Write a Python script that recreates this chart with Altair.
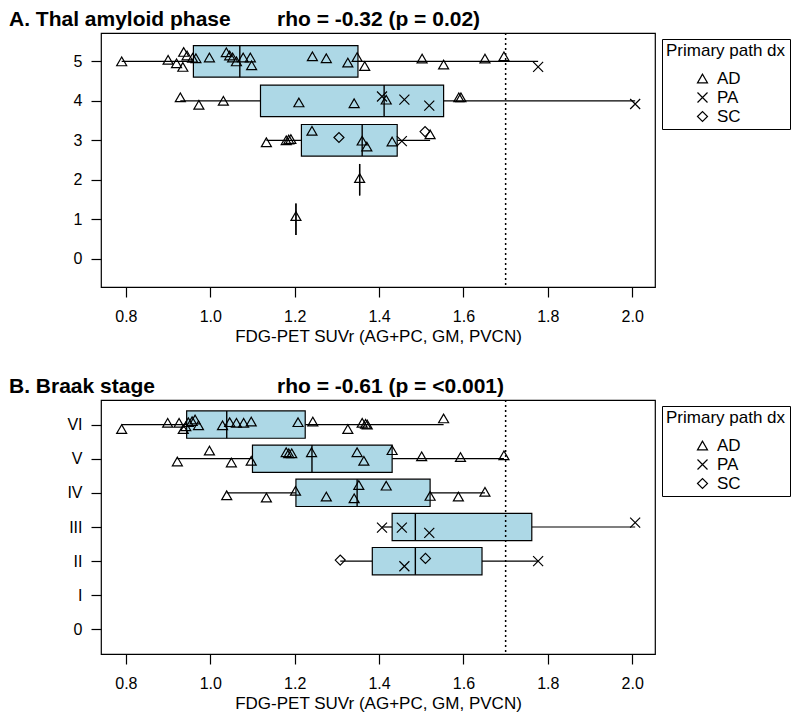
import altair as alt
import pandas as pd

FONT = "Liberation Sans, Arial, Helvetica, sans-serif"
X_DOMAIN = [0.741, 2.054]
X_TICKS = [0.8, 1.0, 1.2, 1.4, 1.6, 1.8, 2.0]
CUTOFF = 1.7
X_TITLE = "FDG-PET SUVr (AG+PC, GM, PVCN)"
LEGEND_TITLE = "Primary path dx"
DX_LEVELS = ["AD", "PA", "SC"]
DX_SHAPES = ["triangle-up", "M-1,-1L1,1M-1,1L1,-1", "diamond"]

panel_titles = ["A. Thal amyloid phase", "B. Braak stage"]
rho_texts = ["rho = -0.32 (p = 0.02)", "rho = -0.61 (p = <0.001)"]

# ---------------- Panel A: Thal amyloid phase (points) ----------------
thal5_values = [0.790, 0.900, 0.920, 0.935, 0.937, 0.945, 0.958, 0.966, 0.998, 1.038, 1.046, 1.053, 1.062,
                1.078, 1.095, 1.098, 1.242, 1.275, 1.326, 1.348, 1.366, 1.502, 1.553, 1.651, 1.696, 1.777]
thal5_dx = ["AD"] * 25 + ["PA"]
thal5_jitter = [0.00, 0.04, -0.05, -0.14, 0.24, 0.15, 0.09, 0.08, 0.10, 0.23, 0.15, 0.10, 0.00,
                0.10, 0.10, -0.10, 0.13, 0.08, -0.03, 0.11, -0.12, 0.07, -0.08, 0.07, 0.13, -0.14]

thal4_values = [0.929, 0.973, 1.031, 1.210, 1.341, 1.407, 1.417, 1.460, 1.519, 1.589, 1.594, 2.007]
thal4_dx = ["AD", "AD", "AD", "AD", "AD", "PA", "AD", "PA", "PA", "AD", "AD", "PA"]
thal4_jitter = [0.09, -0.10, 0.00, -0.04, -0.06, 0.11, 0.03, 0.03, -0.12, 0.09, 0.09, -0.08]

thal3_values = [1.133, 1.180, 1.186, 1.191, 1.241, 1.305, 1.360, 1.371, 1.431, 1.454, 1.509, 1.521]
thal3_dx = ["AD", "AD", "AD", "AD", "AD", "SC", "AD", "AD", "AD", "PA", "SC", "AD"]
thal3_jitter = [-0.05, 0.00, 0.02, 0.03, 0.24, 0.07, -0.01, -0.16, -0.03, -0.02, 0.22, 0.15]

thal2_values = [1.354]
thal2_dx = ["AD"]
thal2_jitter = [0.04]

thal1_values = [1.203]
thal1_dx = ["AD"]
thal1_jitter = [0.08]

# Panel A box statistics
thal_box_phase = [1, 2, 3, 4, 5]
thal_whisk_lo = [1.203, 1.354, 1.133, 0.929, 0.790]
thal_box_lo = [1.203, 1.354, 1.216, 1.119, 0.960]
thal_median = [1.203, 1.354, 1.360, 1.412, 1.070]
thal_box_hi = [1.203, 1.354, 1.443, 1.553, 1.350]
thal_whisk_hi = [1.203, 1.354, 1.521, 2.007, 1.777]
thal_levels = ["0", "1", "2", "3", "4", "5"]

# ---------------- Panel B: Braak stage (points) ----------------
braak6_values = [0.790, 0.899, 0.926, 0.936, 0.942, 0.948, 0.957, 0.964, 0.972, 1.029, 1.046, 1.062,
                 1.079, 1.097, 1.208, 1.243, 1.326, 1.360, 1.368, 1.372, 1.553]
braak6_dx = ["AD"] * 21
braak6_jitter = [-0.13, 0.05, 0.05, -0.13, -0.05, 0.07, 0.10, 0.15, -0.02, -0.02, 0.07, 0.05,
                 0.05, 0.09, 0.07, 0.09, -0.13, 0.05, 0.02, 0.00, 0.18]

braak5_values = [0.922, 0.998, 1.050, 1.097, 1.180, 1.186, 1.193, 1.240, 1.348, 1.364, 1.431, 1.501, 1.593, 1.696]
braak5_dx = ["AD"] * 14
braak5_jitter = [-0.08, 0.24, -0.11, -0.06, 0.19, 0.16, 0.16, 0.19, 0.19, -0.06, 0.25, 0.07, 0.05, 0.10]

braak4_values = [1.039, 1.133, 1.202, 1.275, 1.341, 1.352, 1.417, 1.521, 1.588, 1.651]
braak4_dx = ["AD"] * 10
braak4_jitter = [-0.07, -0.14, 0.06, -0.11, -0.16, 0.23, 0.21, -0.09, -0.11, 0.03]

braak3_values = [1.407, 1.454, 1.519, 2.007]
braak3_dx = ["PA", "PA", "PA", "PA"]
braak3_jitter = [-0.02, -0.02, -0.17, 0.13]

braak2_values = [1.308, 1.460, 1.510, 1.777]
braak2_dx = ["SC", "PA", "SC", "PA"]
braak2_jitter = [0.03, -0.15, 0.08, 0.00]

braak_box_stage = [2, 3, 4, 5, 6]
braak_whisk_lo = [1.308, 1.407, 1.039, 0.922, 0.790]
braak_box_lo = [1.384, 1.431, 1.203, 1.100, 0.944]
braak_median = [1.486, 1.486, 1.348, 1.241, 1.039]
braak_box_hi = [1.644, 1.762, 1.521, 1.431, 1.225]
braak_whisk_hi = [1.777, 2.007, 1.651, 1.696, 1.553]
braak_levels = ["0", "I", "II", "III", "IV", "V", "VI"]


def points_frame(rows):
    frames = []
    for level, vals, dxs, jit in rows:
        frames.append(pd.DataFrame({"level": level, "value": vals, "dx": dxs, "jitter": jit}))
    return pd.concat(frames, ignore_index=True)


thal_points = points_frame([
    (5, thal5_values, thal5_dx, thal5_jitter),
    (4, thal4_values, thal4_dx, thal4_jitter),
    (3, thal3_values, thal3_dx, thal3_jitter),
    (2, thal2_values, thal2_dx, thal2_jitter),
    (1, thal1_values, thal1_dx, thal1_jitter),
])
braak_points = points_frame([
    (6, braak6_values, braak6_dx, braak6_jitter),
    (5, braak5_values, braak5_dx, braak5_jitter),
    (4, braak4_values, braak4_dx, braak4_jitter),
    (3, braak3_values, braak3_dx, braak3_jitter),
    (2, braak2_values, braak2_dx, braak2_jitter),
])
thal_boxes = pd.DataFrame({"level": thal_box_phase, "wlo": thal_whisk_lo, "blo": thal_box_lo,
                           "med": thal_median, "bhi": thal_box_hi, "whi": thal_whisk_hi})
braak_boxes = pd.DataFrame({"level": braak_box_stage, "wlo": braak_whisk_lo, "blo": braak_box_lo,
                            "med": braak_median, "bhi": braak_box_hi, "whi": braak_whisk_hi})

xscale = alt.Scale(domain=X_DOMAIN, nice=False, zero=False)
xaxis = alt.Axis(title=X_TITLE, values=X_TICKS, format=".1f", tickSize=10, tickColor="black",
                 tickWidth=1.2, labelFontSize=16, labelColor="black", labelPadding=11,
                 labelFlush=False, titleFontSize=17, titleFontWeight="normal", titleColor="black",
                 titlePadding=4, domain=False, grid=False)


def panel(points, boxes, levels, title, rho):
    n = len(levels)
    ydomain = [-0.72, n - 1 + 0.72]
    yscale = alt.Scale(domain=ydomain, nice=False, zero=False)
    arr = "[" + ",".join("'" + s + "'" for s in levels) + "]"
    yaxis = alt.Axis(title=None, values=list(range(n)), labelExpr=arr + "[datum.value]",
                     tickSize=10, tickColor="black", tickWidth=1.2, labelFontSize=16,
                     labelColor="black", labelPadding=9, labelAngle=0, domain=False, grid=False)

    bx = alt.Chart(boxes).transform_calculate(ylo="datum.level - 0.4", yhi="datum.level + 0.4")
    wl = bx.mark_rule(color="black", strokeWidth=1.2).encode(
        x=alt.X("wlo:Q", scale=xscale, axis=xaxis), x2="blo:Q",
        y=alt.Y("level:Q", scale=yscale, axis=yaxis))
    wh = bx.mark_rule(color="black", strokeWidth=1.2).encode(
        x=alt.X("bhi:Q", scale=xscale, axis=xaxis), x2="whi:Q",
        y=alt.Y("level:Q", scale=yscale, axis=yaxis))
    rect = bx.mark_rect(fill="#ADD8E6", stroke="black", strokeWidth=1.2).encode(
        x=alt.X("blo:Q", scale=xscale, axis=xaxis), x2="bhi:Q",
        y=alt.Y("ylo:Q", scale=yscale, axis=yaxis), y2="yhi:Q")
    med = bx.mark_rule(color="black", strokeWidth=1.4).encode(
        x=alt.X("med:Q", scale=xscale, axis=xaxis),
        y=alt.Y("ylo:Q", scale=yscale, axis=yaxis), y2="yhi:Q")
    cut = alt.Chart(pd.DataFrame({"cut": [CUTOFF]})).mark_rule(
        color="black", strokeWidth=1.5, strokeDash=[2, 3]).encode(
        x=alt.X("cut:Q", scale=xscale, axis=xaxis))
    pts = alt.Chart(points).transform_calculate(ypos="datum.level + datum.jitter").mark_point(
        filled=False, size=100, strokeWidth=1.2, color="black", opacity=1).encode(
        x=alt.X("value:Q", scale=xscale, axis=xaxis),
        y=alt.Y("ypos:Q", scale=yscale, axis=yaxis),
        shape=alt.Shape("dx:N", scale=alt.Scale(domain=DX_LEVELS, range=DX_SHAPES),
                        legend=alt.Legend(title=LEGEND_TITLE, orient="none", legendX=561, legendY=6,
                                          strokeColor="black", padding=4, titleFontSize=17,
                                          titleFontWeight="normal", titleColor="black",
                                          labelFontSize=17, labelColor="black", symbolSize=100,
                                          symbolStrokeColor="black", symbolStrokeWidth=1.2,
                                          symbolFillColor="transparent", symbolOffset=28,
                                          labelOffset=6, titlePadding=10, rowPadding=1)))
    ttl = alt.Chart(pd.DataFrame({"t": [title], "r": [rho]}))
    t1 = ttl.mark_text(align="left", baseline="alphabetic", fontSize=21, fontWeight="bold", color="black").encode(
        x=alt.value(-92), y=alt.value(-7), text="t:N")
    t2 = ttl.mark_text(align="left", baseline="alphabetic", fontSize=21, fontWeight="bold", color="black").encode(
        x=alt.value(176), y=alt.value(-7), text="r:N")
    return alt.layer(wl, wh, rect, med, cut, pts, t1, t2).properties(width=554, height=254)


pa = panel(thal_points, thal_boxes, thal_levels, panel_titles[0], rho_texts[0])
pb = panel(braak_points, braak_boxes, braak_levels, panel_titles[1], rho_texts[1])

chart = alt.vconcat(pa, pb, spacing=30).resolve_scale(shape="independent").properties(
    padding=0).configure(font=FONT).configure_view(stroke="black", strokeWidth=1.2)

chart.save("out.html", embed_options={"renderer": "svg", "actions": False})
